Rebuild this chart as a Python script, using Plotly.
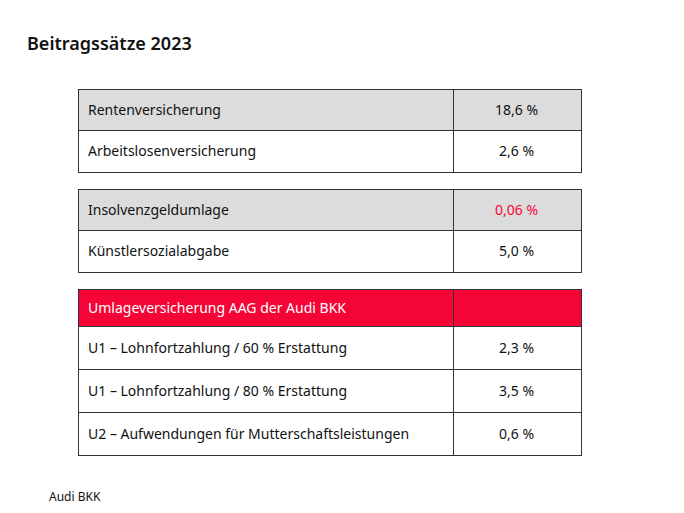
import plotly.graph_objects as go

W, H = 684, 513
OFF = 8  # page body margin in the browser

title = "Beitragssätze 2023"
source = "Audi BKK"

t1_labels = ["Rentenversicherung", "Arbeitslosenversicherung"]
t1_values = ["18,6 %", "2,6 %"]

t2_labels = ["Insolvenzgeldumlage", "Künstlersozialabgabe"]
t2_values = ["0,06 %", "5,0 %"]

t3_header = "Umlageversicherung AAG der Audi BKK"
t3_labels = ["U1 – Lohnfortzahlung / 60 % Erstattung",
             "U1 – Lohnfortzahlung / 80 % Erstattung",
             "U2 – Aufwendungen für Mutterschaftsleistungen"]
t3_values = ["2,3 %", "3,5 %", "0,6 %"]

RED = "#f50537"
GREY = "#dcdcdc"
LINE = "#333333"
TXT = "#111111"
FONT = "Noto Sans"

x0, xs, x1 = 78, 453, 581
colw = [xs - x0, x1 - xs]


def px(p):
    return (p - OFF) / W


def py(p):
    return 1 - (p - OFF) / H


def dom(top, bottom):
    return dict(x=[px(x0), px(x1)], y=[py(bottom), py(top)])


fig = go.Figure()
annotations = []


def add_block(top, header_h, row_h, labels, values, header_fill, colors):
    n = len(labels) - 1
    fig.add_trace(go.Table(
        domain=dom(top, top + header_h + n * row_h + 4),
        columnwidth=colw,
        header=dict(values=["", ""], fill_color=header_fill,
                    line=dict(color=LINE, width=1), height=header_h,
                    font=dict(family=FONT, size=14)),
        cells=dict(values=[[""] * n, [""] * n], fill_color="white",
                   line=dict(color=LINE, width=1), height=row_h,
                   font=dict(family=FONT, size=14)),
    ))
    for i, (lab, val) in enumerate(zip(labels, values)):
        if i == 0:
            yc = top + header_h / 2
        else:
            yc = top + header_h + (i - 1) * row_h + row_h / 2
        annotations.append(dict(text=lab, x=px(x0 + 8), y=py(yc), xref="paper", yref="paper",
                                xanchor="left", yanchor="middle", showarrow=False,
                                font=dict(family=FONT, size=14, color=colors[i][0])))
        if val:
            annotations.append(dict(text=val, x=px((xs + x1) / 2), y=py(yc), xref="paper",
                                    yref="paper", xanchor="center", yanchor="middle",
                                    showarrow=False,
                                    font=dict(family=FONT, size=14, color=colors[i][1])))


add_block(89, 41, 42, t1_labels, t1_values, GREY, [(TXT, TXT), (TXT, TXT)])
add_block(189, 41, 42, t2_labels, t2_values, GREY, [(TXT, RED), (TXT, TXT)])
add_block(289, 37, 43, [t3_header] + t3_labels, [""] + t3_values, RED,
          [("white", "white")] + [(TXT, TXT)] * 3)

annotations.append(dict(text=source, x=px(47), y=py(496), xref="paper", yref="paper",
                        xanchor="left", yanchor="middle", showarrow=False,
                        font=dict(family=FONT, size=12, color="#111111")))

fig.update_layout(
    width=W, height=H,
    margin=dict(l=0, r=0, t=0, b=0),
    paper_bgcolor="white",
    plot_bgcolor="white",
    title=dict(text=title, x=px(27), xanchor="left", y=py(44), yanchor="middle",
               font=dict(family=FONT, size=18, color="#111111", weight=600)),
    annotations=annotations,
)

fig.write_html("out.html")
